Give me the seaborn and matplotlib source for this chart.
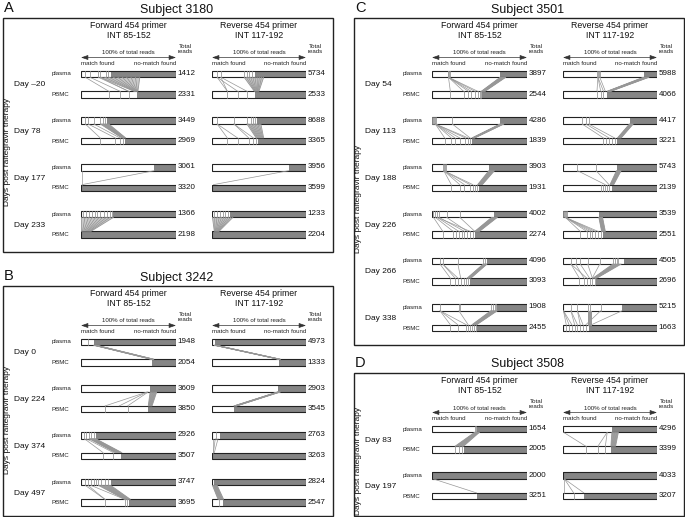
import numpy as np
import pandas as pd
import matplotlib
matplotlib.use("Agg")
import matplotlib.pyplot as plt
import seaborn as sns
from matplotlib.patches import Rectangle, Polygon

# ------------------------------------------------------------------ data
A_subject = "Subject 3180"
A_days = ["Day \u201320", "Day 78", "Day 177", "Day 233"]
A_fwd_plasma_total = [1412, 3449, 3061, 1366]
A_fwd_pbmc_total = [2331, 2969, 3320, 2198]
A_fwd_plasma_match = [0.31, 0.27, 0.775, 0.34]
A_fwd_pbmc_match = [0.59, 0.46, 0.0, 0.0]
A_fwd_plasma_div = [[.04, .09, .18, .20, .26, .28], [.04, .07, .13, .20, .23, .25], [],
                    [.02, .05, .08, .11, .14, .17, .20, .24, .27, .30, .32]]
A_fwd_pbmc_div = [[.29, .41, .50], [.20, .36, .41, .44], [], []]
A_fwd_links = [[(.04, .29), (.09, .41), (.18, .50), (.20, .50)], [(.04, .20), (.07, .36), (.13, .41)],
               [(.775, .005), (.005, .005)], []]
A_fwd_bands = [[(.20, .62, .56, .60)], [(.20, .29, .43, .47)], [], [(0.0, .34, .0, .10)]]

A_rev_plasma_total = [5734, 8688, 3956, 1233]
A_rev_pbmc_total = [2533, 3365, 3599, 2204]
A_rev_plasma_match = [0.46, 0.48, 0.82, 0.19]
A_rev_pbmc_match = [0.46, 0.49, 0.0, 0.0]
A_rev_plasma_div = [[.05, .09, .34, .37, .39, .42], [.05, .23, .37, .41, .44, .46], [],
                    [.02, .05, .08, .11, .14, .17]]
A_rev_pbmc_div = [[.16, .27, .37], [.16, .27, .39, .44, .47], [], []]
A_rev_links = [[(.05, .16), (.05, .27), (.09, .37), (.09, .16)], [(.05, .16), (.05, .27), (.23, .39), (.23, .44)],
               [(.82, .01)], []]
A_rev_bands = [[(.34, .55, .45, .50)], [(.37, .52, .47, .55)], [], [(0.0, .22, .02, .07)]]

B_subject = "Subject 3242"
B_days = ["Day 0", "Day 224", "Day 374", "Day 497"]
B_fwd_plasma_total = [1948, 3609, 2926, 3747]
B_fwd_pbmc_total = [2054, 3850, 3507, 3695]
B_fwd_plasma_match = [0.13, 0.73, 0.15, 0.31]
B_fwd_pbmc_match = [0.75, 0.71, 0.42, 0.51]
B_fwd_plasma_div = [[.07], [], [.03, .05, .08, .10, .13], [.04, .07, .10, .13, .15, .18, .21, .25, .28]]
B_fwd_pbmc_div = [[], [.25, .49], [.23, .34], [.25, .46, .48]]
B_fwd_links = [[], [(.70, .25), (.71, .49), (.70, .40)], [(.03, .23), (.05, .34)],
               [(.04, .25), (.07, .25), (.10, .46)]]
B_fwd_bands = [[(.13, .16, .74, .77)], [(.73, .80, .71, .75)], [(.08, .15, .36, .43)], [(.18, .31, .46, .52)]]

B_rev_plasma_total = [4973, 2903, 2763, 2824]
B_rev_pbmc_total = [1333, 3545, 3263, 2547]
B_rev_plasma_match = [0.03, 0.70, 0.08, 0.02]
B_rev_pbmc_match = [0.72, 0.23, 0.0, 0.11]
B_rev_plasma_div = [[], [], [.035], []]
B_rev_pbmc_div = [[], [], [], [.07]]
B_rev_links = [[], [], [(.01, .01), (.03, .01), (.06, .02)], []]
B_rev_bands = [[(.02, .04, .71, .73)], [(.70, .73, .23, .26)], [], [(0.0, .05, .06, .12)]]

C_subject = "Subject 3501"
C_days = ["Day 54", "Day 113", "Day 188", "Day 226", "Day 266", "Day 338"]
C_fwd_plasma_total = [3897, 4286, 3903, 4002, 4096, 1908]
C_fwd_pbmc_total = [2544, 1839, 1931, 2274, 3093, 2455]
C_fwd_plasma_match = [0.72, 0.72, 0.60, 0.65, 0.58, 0.69]
C_fwd_pbmc_match = [0.53, 0.42, 0.49, 0.45, 0.40, 0.47]
C_fwd_plasma_div = [[.16, .17, .18, .19], [.0, .01, .02, .03, .04, .21], [.11, .12, .13, .14],
                    [.01, .03, .05, .07, .15, .29], [.08, .11, .27, .54, .56], [.08, .28, .29, .62, .64, .66, .68]]
C_fwd_pbmc_div = [[.19, .33, .38, .41, .45, .48, .50, .52], [.13, .20, .24, .29, .35, .38, .40],
                  [.20, .29, .34, .40, .43, .45, .47], [.11, .22, .25, .28, .31, .34, .37, .40, .43],
                  [.19, .24, .27, .30, .33, .36, .38], [.19, .27, .36, .38, .40, .42, .44, .46]]
C_fwd_links = [[(.17, .19), (.17, .33), (.17, .38), (.17, .41), (.17, .45), (.17, .48)],
               [(.03, .13), (.03, .20), (.03, .24), (.03, .29), (.03, .35), (.03, .38), (.21, .40)],
               [(.12, .20), (.12, .29), (.12, .34), (.12, .40), (.12, .43)],
               [(.01, .11), (.03, .22), (.05, .28), (.07, .34), (.05, .40), (.15, .37), (.29, .45)],
               [(.08, .19), (.11, .24), (.11, .27), (.27, .30)],
               [(.08, .19), (.08, .27), (.08, .36), (.28, .38)]]
C_fwd_bands = [[(.72, .78, .52, .56)], [(.72, .76, .42, .45)], [(.60, .66, .48, .53)],
               [(.63, .69, .45, .50)], [(.54, .58, .37, .41)], [(.62, .69, .42, .47)]]

C_rev_plasma_total = [5988, 4417, 5743, 3539, 4505, 5215]
C_rev_pbmc_total = [4066, 3221, 2139, 2551, 2696, 1663]
C_rev_plasma_match = [0.86, 0.71, 0.57, 0.38, 0.65, 0.63]
C_rev_pbmc_match = [0.47, 0.57, 0.52, 0.43, 0.35, 0.27]
C_rev_plasma_div = [[.36, .37, .38, .39], [.20, .24, .27], [.15, .35], [.0, .01, .02, .03, .04],
                    [.08, .13, .18, .26, .39, .53, .55, .57, .59], [.08, .15, .26, .29, .40]]
C_rev_pbmc_div = [[.36, .40, .43], [.43, .46, .49, .52, .55], [.40, .43, .45, .47, .49],
                  [.18, .25, .28, .31, .34, .37, .40], [.17, .22, .25, .28, .31, .34],
                  [.03, .06, .09, .12, .15, .18, .21, .24]]
C_rev_links = [[(.37, .36), (.37, .40), (.37, .43), (.39, .45)],
               [(.20, .43), (.24, .49), (.27, .55)],
               [(.15, .45), (.35, .49)],
               [(.02, .18), (.02, .25), (.02, .28), (.02, .31), (.02, .34), (.02, .37)],
               [(.08, .17), (.08, .25), (.13, .22), (.18, .28), (.26, .31), (.39, .31)],
               [(.0, .03), (.0, .06), (.0, .09), (.08, .12), (.08, .15), (.15, .18), (.15, .21), (.40, .24), (.63, .30)]]
C_rev_bands = [[(.86, .92, .47, .51)], [(.71, .75, .58, .62)], [(.57, .62, .50, .54)],
               [(.38, .42, .41, .45)], [(.53, .62, .32, .36)], [(.26, .30, .26, .30)]]

D_subject = "Subject 3508"
D_days = ["Day 83", "Day 197"]
D_fwd_plasma_total = [1654, 2000]
D_fwd_pbmc_total = [2005, 3251]
D_fwd_plasma_match = [0.47, 0.0]
D_fwd_pbmc_match = [0.33, 0.47]
D_fwd_plasma_div = [[.45, .46], []]
D_fwd_pbmc_div = [[.24, .28, .31], []]
D_fwd_links = [[], [(.01, .47)]]
D_fwd_bands = [[(.45, .50, .24, .33)], []]

D_rev_plasma_total = [4296, 4033]
D_rev_pbmc_total = [3399, 3207]
D_rev_plasma_match = [0.52, 0.0]
D_rev_pbmc_match = [0.51, 0.22]
D_rev_plasma_div = [[], []]
D_rev_pbmc_div = [[.24, .37, .45], [.11]]
D_rev_links = [[(.0, .24), (.47, .37), (.47, .45)], [(.01, .01), (.01, .11), (.01, .22)]]
D_rev_bands = [[(.52, .59, .51, .56)], []]

primer_titles = ["Forward 454 primer\nINT 85-152", "Reverse 454 primer\nINT 117-192"]
ylabel_text = "Days post raltegravir therapy"

# ------------------------------------------------------------------ style
sns.set_theme(style="white")
plt.rcParams["font.family"] = ["Liberation Sans", "DejaVu Sans"]

W, H = 685, 517
GRAY = "#858585"
LINE = "#979797"
EDGE = "#222222"
BAR_H = 6.5
ROW_STEP = 46.7
PAIR_GAP = 20.5

fig = plt.figure(figsize=(W / 100, H / 100), dpi=100)
bg = fig.add_axes([0, 0, 1, 1])
bg.set_xlim(0, W)
bg.set_ylim(H, 0)
bg.axis("off")


def draw_block(x0, x1, ys_p, ys_b, ptot, btot, pm, bm, pdv, bdv, links, bands):
    ytop = ys_p[0] - 8
    ybot = ys_b[-1] + 8
    ax = fig.add_axes([x0 / W, 1 - ybot / H, (x1 - x0) / W, (ybot - ytop) / H])
    ys = list(ys_p) + list(ys_b)
    df = pd.DataFrame({"y": ys, "full": 1.0, "match": list(pm) + list(bm)})
    wd = BAR_H / PAIR_GAP
    kw = dict(data=df, y="y", orient="y", native_scale=True, width=wd,
              errorbar=None, ax=ax, saturation=1)
    sns.barplot(x="full", color=GRAY, linewidth=0, **kw)
    sns.barplot(x="match", color="white", linewidth=0, **kw)
    for i in range(len(ys_p)):
        yp, yb = ys_p[i], ys_b[i]
        for f in pdv[i]:
            ax.plot([f, f], [yp - BAR_H / 2, yp + BAR_H / 2], color=LINE, lw=0.6, zorder=3)
        for f in bdv[i]:
            ax.plot([f, f], [yb - BAR_H / 2, yb + BAR_H / 2], color=LINE, lw=0.6, zorder=3)
        for (a, b) in links[i]:
            ax.plot([a, b], [yp + BAR_H / 2, yb - BAR_H / 2], color=LINE, lw=0.5, zorder=2)
        for (p0, p1, b0, b1) in bands[i]:
            poly = Polygon([[p0, yp + BAR_H / 2], [p1, yp + BAR_H / 2],
                            [b1, yb - BAR_H / 2], [b0, yb - BAR_H / 2]],
                           closed=True, facecolor="#a8a8a8", edgecolor="none", alpha=0.6, zorder=2)
            ax.add_patch(poly)
            for t in np.linspace(0, 1, 10):
                ax.plot([p0 + t * (p1 - p0), b0 + t * (b1 - b0)],
                        [yp + BAR_H / 2, yb - BAR_H / 2], color=LINE, lw=0.6, zorder=2)
    sns.barplot(x="full", color=EDGE, fill=False, linewidth=0.8, **kw)
    ax.set_xlim(-0.005, 1.005)
    ax.set_ylim(ybot, ytop)
    ax.axis("off")
    for i in range(len(ys_p)):
        bg.text(x1 + 1.5, ys_p[i] - 0.5, str(ptot[i]), fontsize=5.8, va="center", ha="left", color="#111")
        bg.text(x1 + 1.5, ys_b[i] - 0.5, str(btot[i]), fontsize=5.8, va="center", ha="left", color="#111")


def draw_panel(letter, subject, days, fwd, rev, dx, dy, bottom):
    n = len(days)
    ys_p = [dy + 74 + ROW_STEP * k for k in range(n)]
    ys_b = [y + PAIR_GAP for y in ys_p]
    bg.text(dx + 4, dy + 8, letter, fontsize=10.5, ha="left", va="center", color="#111")
    bg.text(dx + 177, dy + 9.5, subject, fontsize=9, ha="center", va="center", color="#111")
    bg.add_patch(Rectangle((dx + 3, dy + 18), 330, bottom - (dy + 18), fill=False,
                           edgecolor=EDGE, lw=1.0))
    bars = [(dx + 81, dx + 176), (dx + 212, dx + 306)]
    for (x0, x1), title in zip(bars, primer_titles):
        xc = (x0 + x1) / 2
        bg.text(xc, dy + 30.5, title, fontsize=6.3, ha="center", va="center", linespacing=1.2, color="#111")
        bg.text(x1 + 9, dy + 49, "Total\nreads", fontsize=4.4, ha="center", va="center", linespacing=1.15, color="#222")
        bg.text(xc, dy + 53, "100% of total reads", fontsize=4.4, ha="center", va="center", color="#222")
        bg.annotate("", xy=(x0, dy + 57.5), xytext=(x1, dy + 57.5),
                    arrowprops=dict(arrowstyle="<|-|>,head_length=0.35,head_width=0.12",
                                    lw=0.5, color="#333", shrinkA=0, shrinkB=0))
        bg.text(x0, dy + 63.5, "match found", fontsize=4.4, ha="left", va="center", color="#222")
        bg.text(x1, dy + 63.5, "no-match found", fontsize=4.4, ha="right", va="center", color="#222")
    for k in range(n):
        bg.text(dx + 52, ys_p[k], "plasma", fontsize=4.4, ha="left", va="center", color="#222")
        bg.text(dx + 52, ys_b[k], "PBMC", fontsize=4.4, ha="left", va="center", color="#222")
        bg.text(dx + 14, ys_p[k] + 11, days[k], fontsize=6, ha="left", va="center", color="#111")
    bg.text(dx + 8, (ys_p[0] + ys_b[-1]) / 2 - 2, ylabel_text, fontsize=6, rotation=90,
            ha="center", va="center", color="#111")
    draw_block(bars[0][0], bars[0][1], ys_p, ys_b, *fwd)
    draw_block(bars[1][0], bars[1][1], ys_p, ys_b, *rev)


draw_panel("A", A_subject, A_days,
           (A_fwd_plasma_total, A_fwd_pbmc_total, A_fwd_plasma_match, A_fwd_pbmc_match,
            A_fwd_plasma_div, A_fwd_pbmc_div, A_fwd_links, A_fwd_bands),
           (A_rev_plasma_total, A_rev_pbmc_total, A_rev_plasma_match, A_rev_pbmc_match,
            A_rev_plasma_div, A_rev_pbmc_div, A_rev_links, A_rev_bands),
           0, 0, 251.5)
draw_panel("B", B_subject, B_days,
           (B_fwd_plasma_total, B_fwd_pbmc_total, B_fwd_plasma_match, B_fwd_pbmc_match,
            B_fwd_plasma_div, B_fwd_pbmc_div, B_fwd_links, B_fwd_bands),
           (B_rev_plasma_total, B_rev_pbmc_total, B_rev_plasma_match, B_rev_pbmc_match,
            B_rev_plasma_div, B_rev_pbmc_div, B_rev_links, B_rev_bands),
           0, 268, 515.5)
draw_panel("C", C_subject, C_days,
           (C_fwd_plasma_total, C_fwd_pbmc_total, C_fwd_plasma_match, C_fwd_pbmc_match,
            C_fwd_plasma_div, C_fwd_pbmc_div, C_fwd_links, C_fwd_bands),
           (C_rev_plasma_total, C_rev_pbmc_total, C_rev_plasma_match, C_rev_pbmc_match,
            C_rev_plasma_div, C_rev_pbmc_div, C_rev_links, C_rev_bands),
           351, 0, 344.5)
draw_panel("D", D_subject, D_days,
           (D_fwd_plasma_total, D_fwd_pbmc_total, D_fwd_plasma_match, D_fwd_pbmc_match,
            D_fwd_plasma_div, D_fwd_pbmc_div, D_fwd_links, D_fwd_bands),
           (D_rev_plasma_total, D_rev_pbmc_total, D_rev_plasma_match, D_rev_pbmc_match,
            D_rev_plasma_div, D_rev_pbmc_div, D_rev_links, D_rev_bands),
           351, 355, 515.5)

fig.savefig("out.png", dpi=100)
